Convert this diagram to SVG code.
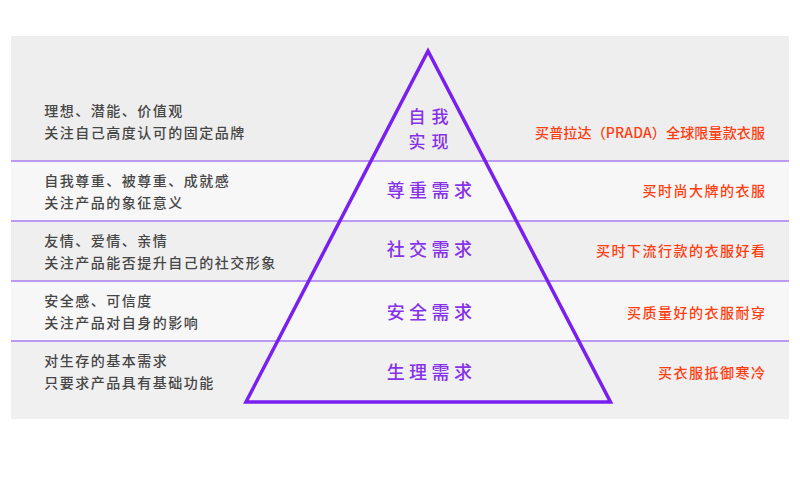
<svg xmlns="http://www.w3.org/2000/svg" width="800" height="489" viewBox="0 0 800 489">
<style>
.txt{font-family:"Noto Sans CJK SC","Noto Sans",sans-serif;font-size:14px;font-weight:500;letter-spacing:1.5px}
.l{fill:#464646}
.r{fill:#ff3d0f;text-anchor:end}
.m{font-family:"Noto Sans CJK SC","Noto Sans",sans-serif;font-size:18px;font-weight:500;letter-spacing:4.4px;fill:#8632ea}
.sep{stroke:#a77cf2;stroke-width:1.5}
</style>
<rect x="0" y="0" width="800" height="489" fill="#ffffff"/>
<g id="rows">
<rect x="11" y="36" width="778" height="125" fill="#eeeeee"/>
<rect x="11" y="161" width="778" height="60" fill="#f7f7f7"/>
<rect x="11" y="221" width="778" height="60" fill="#efefef"/>
<rect x="11" y="281" width="778" height="60" fill="#f7f7f7"/>
<rect x="11" y="341" width="778" height="78" fill="#f0f0f0"/>
</g>
<g id="connectors">
<line class="sep" x1="11" y1="161" x2="789" y2="161"/>
<line class="sep" x1="11" y1="221" x2="789" y2="221"/>
<line class="sep" x1="11" y1="281" x2="789" y2="281"/>
<line class="sep" x1="11" y1="341" x2="789" y2="341"/>
</g>
<g id="pyramid">
<polygon points="428,51 246,402 610.5,402" fill="none" stroke="#7a1ff0" stroke-width="3.5" stroke-linejoin="miter"/>
</g>
<g id="level-self-actualization">
<text class="txt l" x="44.3" y="115.5">理想、潜能、价值观</text>
<text class="txt l" x="44.3" y="137.5">关注自己高度认可的固定品牌</text>
<text class="m" style="font-size:17px;letter-spacing:6px"><tspan x="408.5" y="123.3">自我</tspan><tspan x="408.5" y="148.2">实现</tspan></text>
<text class="txt" fill="#ff3d0f" x="535" y="137.5" textLength="230" lengthAdjust="spacing" style="letter-spacing:0">买普拉达（PRADA）全球限量款衣服</text>
</g>
<g id="level-esteem">
<text class="txt l" x="44.3" y="185.5">自我尊重、被尊重、成就感</text>
<text class="txt l" x="44.3" y="207.5">关注产品的象征意义</text>
<text class="m" x="386.7" y="197">尊重需求</text>
<text class="txt r" x="766.5" y="195.5">买时尚大牌的衣服</text>
</g>
<g id="level-social">
<text class="txt l" x="44.3" y="245.5">友情、爱情、亲情</text>
<text class="txt l" x="44.3" y="267.5">关注产品能否提升自己的社交形象</text>
<text class="m" x="386.7" y="256">社交需求</text>
<text class="txt r" x="766.5" y="255.5">买时下流行款的衣服好看</text>
</g>
<g id="level-safety">
<text class="txt l" x="44.3" y="305.5">安全感、可信度</text>
<text class="txt l" x="44.3" y="327.5">关注产品对自身的影响</text>
<text class="m" x="386.7" y="318.5">安全需求</text>
<text class="txt r" x="766.5" y="318">买质量好的衣服耐穿</text>
</g>
<g id="level-physiological">
<text class="txt l" x="44.3" y="365.5">对生存的基本需求</text>
<text class="txt l" x="44.3" y="387.5">只要求产品具有基础功能</text>
<text class="m" x="386.7" y="379">生理需求</text>
<text class="txt r" x="766.5" y="378">买衣服抵御寒冷</text>
</g>
</svg>
